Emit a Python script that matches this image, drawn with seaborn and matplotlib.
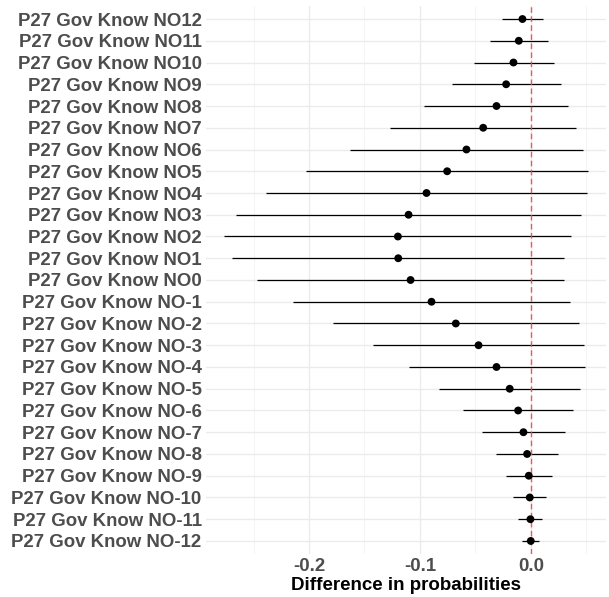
import numpy as np
import pandas as pd
import matplotlib
matplotlib.use("Agg")
import matplotlib.pyplot as plt
import seaborn as sns

# Values
levels = ["12", "11", "10", "9", "8", "7", "6", "5", "4", "3", "2", "1", "0",
          "-1", "-2", "-3", "-4", "-5", "-6", "-7", "-8", "-9", "-10", "-11", "-12"]
labels = [f"P27 Gov Know NO{l}" for l in levels]
estimate = [-0.0075, -0.0108, -0.0156, -0.0222, -0.0309, -0.0429, -0.058, -0.0754, -0.094,
            -0.1102, -0.1198, -0.1195, -0.1084, -0.0895, -0.0676, -0.0471, -0.0309, -0.019,
            -0.0114, -0.0066, -0.0033, -0.0018, -0.0009, -0.0003, 0.0]
lower = [-0.026, -0.037, -0.0514, -0.0709, -0.0961, -0.127, -0.163, -0.2024, -0.2387,
         -0.2655, -0.2766, -0.2694, -0.2465, -0.2144, -0.1787, -0.1426, -0.110, -0.0829,
         -0.0607, -0.0438, -0.0315, -0.0222, -0.0159, -0.0111, -0.0075]
upper = [0.0114, 0.0156, 0.0207, 0.027, 0.0339, 0.0411, 0.0474, 0.0514, 0.0508,
         0.045, 0.0366, 0.030, 0.030, 0.0357, 0.0435, 0.0483, 0.0486, 0.0444,
         0.0381, 0.0312, 0.0249, 0.0189, 0.0141, 0.0105, 0.0075]

df = pd.DataFrame({"term": labels, "estimate": estimate, "lower": lower, "upper": upper})

sns.set_theme(style="whitegrid")
plt.rcParams['font.family'] = ['Liberation Sans', 'DejaVu Sans']

fig = plt.figure(figsize=(6.09, 5.97), dpi=100)
ax = fig.add_axes([0.338, 0.072, 0.657, 0.918])

ax.hlines(y=df["term"], xmin=df["lower"], xmax=df["upper"], color="black", linewidth=0.9, zorder=2)
ax.axvline(0, color="#F04848", alpha=0.9, linestyle=(0, (4, 2.5)), linewidth=1.0, zorder=2.5)
sns.scatterplot(data=df, x="estimate", y="term", color="black", s=32, edgecolor="none", ax=ax, zorder=3)

n = len(labels)
ax.set_ylim(n - 1 + 0.6, -0.6)
ax.set_xlim(-0.293, 0.0678)
ax.set_xticks([-0.2, -0.1, 0.0])
ax.set_xticklabels(["-0.2", "-0.1", "0.0"])
ax.set_xticks([-0.25, -0.15, -0.05, 0.05], minor=True)

ax.grid(True, which="major", color="#EBEBEB", linewidth=1.0)
ax.grid(True, which="minor", axis="x", color="#F2F2F2", linewidth=0.6)
for s in ax.spines.values():
    s.set_visible(False)
ax.set_facecolor("white")

ax.tick_params(axis="y", labelsize=13.4, labelcolor="#4D4D4D", pad=3, length=0)
ax.tick_params(axis="x", labelsize=13.4, labelcolor="#4D4D4D", pad=3, length=0)
for t in ax.get_yticklabels() + ax.get_xticklabels():
    t.set_fontweight("bold")

ax.set_ylabel("")
ax.set_xlabel("Difference in probabilities", fontsize=13.5, fontweight="bold", color="black", labelpad=1)

fig.savefig("out.png", dpi=100)
